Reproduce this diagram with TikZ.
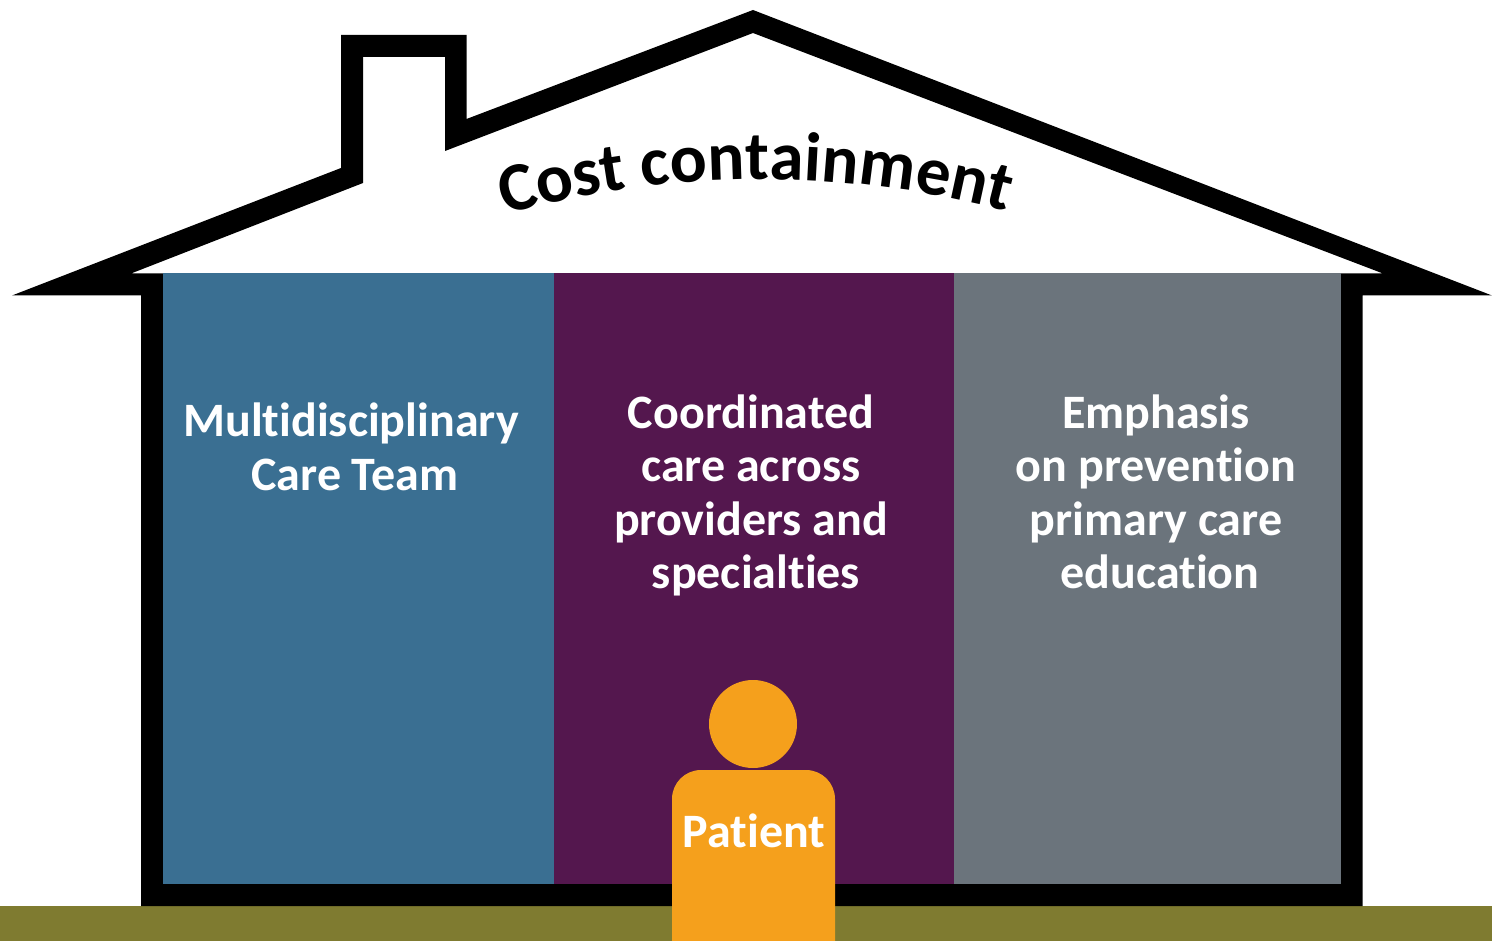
\documentclass[tikz,border=0pt]{standalone}
\usepackage{fontspec}
\setmainfont[Ligatures=NoCommon,Contextuals=NoAlternate]{Carlito}
\usetikzlibrary{decorations.text}
\definecolor{teamblue}{HTML}{3A6F92}
\definecolor{coordpurple}{HTML}{54174E}
\definecolor{prevgrey}{HTML}{6B747C}
\definecolor{groundolive}{HTML}{7F7B30}
\definecolor{patientorange}{HTML}{F5A01C}
\tikzset{
  paneltext/.style={text=white,font=\fontsize{48}{53.5}\selectfont\bfseries,align=center,inner sep=0pt,anchor=north},
}
\begin{document}
\begin{tikzpicture}[x=1pt,y=-1pt]
\useasboundingbox (0,0) rectangle (1492,941);
\fill[white] (0,0) rectangle (1492,941);
% ground
\fill[groundolive] (0,906) rectangle (1492,941);
% house outline
\fill[black,even odd rule]
  (12,295.5) -- (341,168) -- (341,35) -- (466.5,35) -- (466.5,119) -- (753,10) -- (1492,295.5)
  -- (1362.5,295.5) -- (1362.5,906) -- (141,906) -- (141,295.5) -- cycle
  (131,273.5) -- (363,183) -- (363,57) -- (445,57) -- (445,151) -- (753,33) -- (1383,273.5)
  -- (1341,273.5) -- (1341,884) -- (163,884) -- (163,273.5) -- cycle;
% panels
\fill[teamblue] (163,273.5) rectangle (554,884);
\fill[coordpurple] (554,273.5) rectangle (954,884);
\fill[prevgrey] (954,273.5) rectangle (1341,884);
% roof title
\path[decorate,decoration={text along path,text align=center,
  text={|\fontsize{69}{69}\selectfont\bfseries|Cost containment}}]
  (492,219) .. controls (660,167) and (850,167) .. (1020,215);
% panel texts
\node[paneltext] (team) at (351,403) {Multidisciplinary\\\hspace*{8pt}Care Team};
\node[paneltext] (coord) at (751,394.5) {Coordinated\\care across\\providers and\\\hspace*{10pt}specialties};
\node[paneltext] (prev) at (1156,394.5) {Emphasis\\on prevention\\primary care\\\hspace*{8pt}education};
% patient
\fill[patientorange] (753,724) circle[radius=44];
\fill[patientorange] (672,941) [rounded corners=29pt] -- (672,770) -- (835,770) [sharp corners] -- (835,941) -- cycle;
\node[text=white,font=\fontsize{48}{48}\selectfont\bfseries,inner sep=0pt] (patient) at (754,831) {Patient};
\end{tikzpicture}
\end{document}
